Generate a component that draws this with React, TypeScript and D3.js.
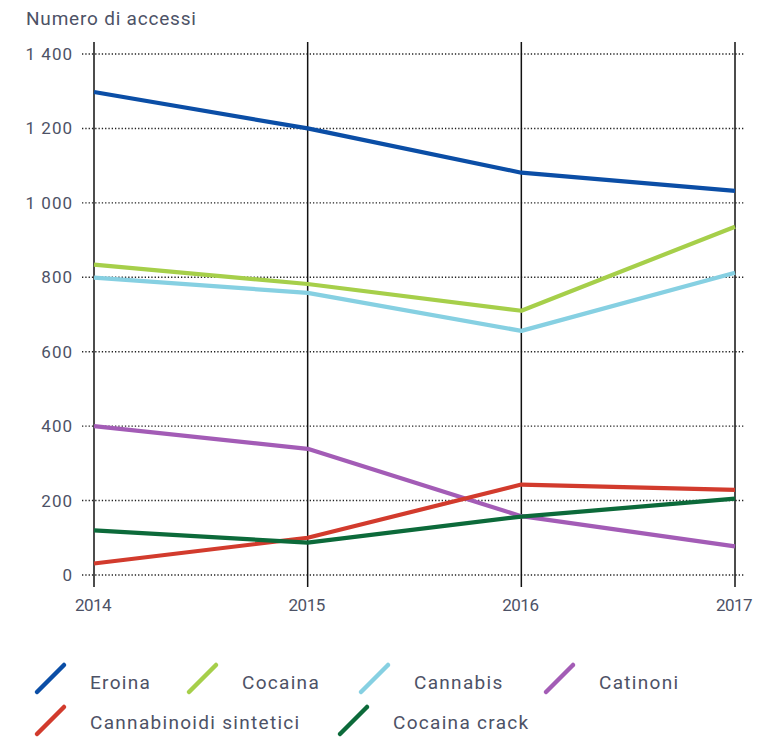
import React from "react";
import * as d3 from "d3";

const years = [2014, 2015, 2016, 2017];
const yTicks = [0, 200, 400, 600, 800, 1000, 1200, 1400];
const seriesNames = ["Eroina", "Cocaina", "Cannabis", "Catinoni", "Cannabinoidi sintetici", "Cocaina crack"];
const seriesColors = ["#0b4ea6", "#a6cf4a", "#86d0e2", "#a35cb6", "#d23b2d", "#0c6a3a"];
const eroina = [1298, 1200, 1081, 1032];
const cocaina = [834, 782, 710, 936];
const cannabis = [799, 758, 656, 812];
const catinoni = [400, 339, 158, 77];
const cannabinoidi = [31, 100, 243, 229];
const crack = [120, 87, 157, 205];
const seriesValues = [eroina, cocaina, cannabis, catinoni, cannabinoidi, crack];

// legend layout: [row, x of symbol]
const legendPos: [number, number][] = [
  [0, 36], [0, 188], [0, 360], [0, 545],
  [1, 36], [1, 339],
];

const W = 765;
const H = 738;
const FONT = "Roboto, 'Liberation Sans', Arial, sans-serif";
const TEXT = "#4d5266";

export default function App() {
  const x = d3.scaleLinear().domain([2014, 2017]).range([94, 735]);
  const y = d3.scaleLinear().domain([0, 1400]).range([575, 54]);
  const line = d3
    .line<number>()
    .x((_, i) => x(years[i]))
    .y((d) => y(d));

  return (
    <svg
      width={W}
      height={H}
      style={{ position: "absolute", left: 0, top: 0, background: "#fff" }}
      fontFamily={FONT}
    >
      <text x={26} y={25} fontSize={19} fill={TEXT} letterSpacing={0.8}>
        Numero di accessi
      </text>

      {yTicks.map((t) => (
        <g key={t}>
          <line
            x1={82}
            x2={745}
            y1={y(t)}
            y2={y(t)}
            stroke="#222"
            strokeWidth={1.4}
            strokeDasharray="1.3,2"
          />
          <text x={73} y={y(t) + 6} fontSize={17} fill={TEXT} textAnchor="end" letterSpacing={1}>
            {d3.format(",")(t).replace(",", " ")}
          </text>
        </g>
      ))}

      {years.map((yr) => (
        <g key={yr}>
          <line x1={x(yr)} x2={x(yr)} y1={42} y2={587} stroke="#111" strokeWidth={1.5} />
          <text x={x(yr) - 1} y={611} fontSize={17} fill={TEXT} textAnchor="middle" letterSpacing={-0.5}>
            {yr}
          </text>
        </g>
      ))}

      {seriesValues.map((vals, i) => (
        <path
          key={seriesNames[i]}
          d={line(vals) || ""}
          fill="none"
          stroke={seriesColors[i]}
          strokeWidth={4.2}
          strokeLinejoin="round"
        />
      ))}

      {seriesNames.map((name, i) => {
        const [row, sx] = legendPos[i];
        const cy = row === 0 ? 679 : 721;
        return (
          <g key={name}>
            <line
              x1={sx + 1}
              y1={cy + 13}
              x2={sx + 28}
              y2={cy - 14}
              stroke={seriesColors[i]}
              strokeWidth={4.5}
              strokeLinecap="round"
            />
            <text x={sx + 54} y={row === 0 ? 689 : 729} fontSize={19} fill={TEXT} letterSpacing={1.3}>
              {name}
            </text>
          </g>
        );
      })}
    </svg>
  );
}
